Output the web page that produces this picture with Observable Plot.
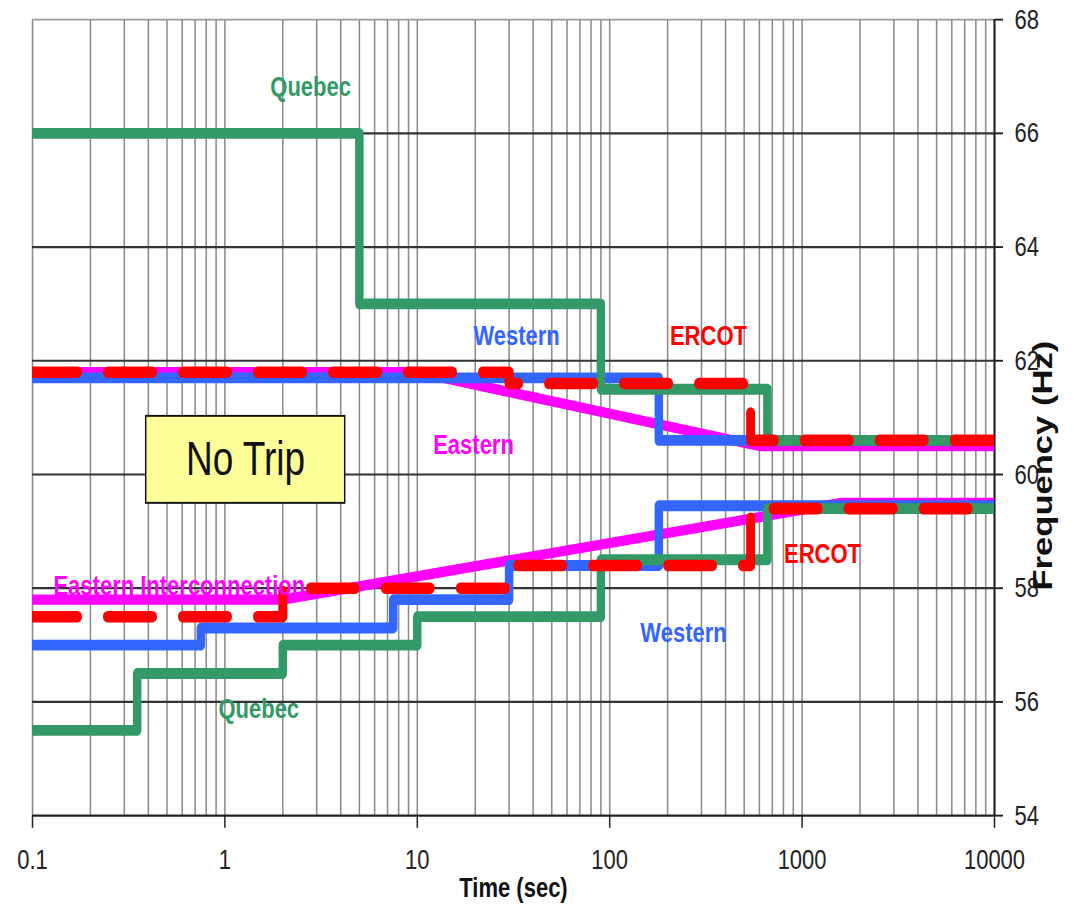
<!DOCTYPE html>
<html><head><meta charset="utf-8">
<script src="https://cdn.jsdelivr.net/npm/d3@7"></script>
<script src="https://cdn.jsdelivr.net/npm/@observablehq/plot@0.6"></script>
<style>body{margin:0;background:#fff;} #chart svg{display:block;}</style>
</head><body><div id="chart"></div>
<script>
// ---- data (time in seconds, frequency in Hz) ----
const quebecHighT  = [0.1, 5, 90, 660, 10000];
const quebecHighF  = [66, 63, 61.5, 60.6, 60.6];
const quebecLowT   = [0.1, 0.35, 2, 10, 90, 660, 10000];
const quebecLowF   = [55.5, 56.5, 57.0, 57.5, 58.5, 59.4, 59.4];
const westernHighT = [0.1, 180, 10000];
const westernHighF = [61.7, 60.6, 60.6];
const westernLowT  = [0.1, 0.75, 7.5, 30, 180, 10000];
const westernLowF  = [57.0, 57.3, 57.8, 58.4, 59.45, 59.45];
const ercotHighT   = [0.1, 30, 540, 10000];
const ercotHighF   = [61.8, 61.6, 60.6, 60.6];
const ercotLowT    = [0.1, 2, 30, 540, 10000];
const ercotLowF    = [57.5, 58.0, 58.4, 59.4, 59.4];
const easternHighT = [0.1, 10, 600, 10000];
const easternHighF = [61.8, 61.8, 60.5, 60.5];
const easternLowT  = [0.1, 2, 1600, 10000];
const easternLowF  = [57.8, 57.8, 59.5, 59.5];

const labelText   = ["Quebec", "Western", "ERCOT", "Eastern", "ERCOT", "Western", "Quebec"];
const labelT      = [2.79, 32.8, 326, 19.6, 1276, 242, 1.5];
const labelF      = [66.82, 62.43, 62.43, 60.52, 58.6, 57.21, 55.87];
const labelSeries = ["Quebec", "Western", "ERCOT", "Eastern", "ERCOT", "Western", "Quebec"];
const eiText = ["Eastern Interconnection"], eiT = [0.1285], eiF = [58.04];

const boxT1 = [0.39], boxT2 = [4.22], boxF1 = [59.49], boxF2 = [61.02];
const boxText = ["No Trip"], boxTextT = [1.28], boxTextF = [60.26];

const xTicks = [0.1, 1, 10, 100, 1000, 10000];
const yTicks = [54, 56, 58, 60, 62, 64, 66, 68];
const yGridDark = [56, 58, 60, 62, 64, 66];
const xLabel = "Time (sec)";
const yLabel = "Frequency (Hz)";

const colors = {Quebec: "#339966", Western: "#3366FF", ERCOT: "#FF0000", Eastern: "#FF00FF"};

// ---- build ----
const rows = (T, F) => T.map((t, i) => ({t, f: F[i]}));
const labels = labelText.map((s, i) => ({s, t: labelT[i], f: labelF[i], c: colors[labelSeries[i]]}));
const eiLabel = eiText.map((s, i) => ({s, t: eiT[i], f: eiF[i]}));
const box = boxT1.map((d, i) => ({x1: boxT1[i], x2: boxT2[i], y1: boxF1[i], y2: boxF2[i]}));
const boxLbl = boxText.map((s, i) => ({s, t: boxTextT[i], f: boxTextF[i]}));

const W = 1074, OUTH = 917, H = 716;
const S = OUTH / H;
const font = "Liberation Sans, Arial, Helvetica, sans-serif";
const gridT = d3.scaleLog().domain([0.1, 10000]).ticks();

const step = (T, F, name) => Plot.line(rows(T, F), {x: "t", y: "f", curve: "step-after", stroke: colors[name], strokeWidth: 8.5, strokeLinejoin: "round", clip: true});
const slope = (T, F) => Plot.line(rows(T, F), {x: "t", y: "f", stroke: colors.Eastern, strokeWidth: 8, strokeLinejoin: "round", clip: true});
const dashed = (T, F) => Plot.line(rows(T, F), {x: "t", y: "f", curve: "step-after", stroke: colors.ERCOT, strokeWidth: 9, strokeDasharray: "45,30", strokeLinecap: "round", strokeLinejoin: "round", clip: true});

const chart = Plot.plot({
  width: W, height: H,
  marginLeft: 32, marginRight: 80, marginTop: 19 / S, marginBottom: 102 / S,
  style: {fontFamily: font, background: "white", color: "#222"},
  x: {type: "log", domain: [0.1, 10000], axis: null},
  y: {domain: [54, 68], axis: null},
  color: {type: "identity"},
  marks: [
    Plot.ruleX(gridT, {stroke: "#888", strokeWidth: 1.5}),
    Plot.ruleY([68], {stroke: "#9a9a9a", strokeWidth: 1.5}),
    Plot.ruleY(yGridDark, {stroke: "#333", strokeWidth: 1.7}),
    Plot.rect(box, {x1: "x1", x2: "x2", y1: "y1", y2: "y2", fill: "#FFFF99", stroke: "#111", strokeWidth: 1.5}),
    Plot.text(boxLbl, {x: "t", y: "f", text: "s", fontSize: 37, fill: "#111"}),
    Plot.ruleY([54], {stroke: "#222", strokeWidth: 1.8}),
    Plot.ruleX([10000], {stroke: "#222", strokeWidth: 2}),
    Plot.axisX({ticks: xTicks, anchor: "bottom", tickSize: 10, tickPadding: 16, fontSize: 22, tickFormat: d => String(d), label: null, stroke: "#222", strokeWidth: 1.5, fill: "#222"}),
    Plot.axisY({ticks: yTicks, anchor: "right", tickSize: 8, tickPadding: 12, fontSize: 22, label: null, stroke: "#222", strokeWidth: 1.5, fill: "#222"}),
    slope(easternHighT, easternHighF),
    slope(easternLowT, easternLowF),
    step(westernHighT, westernHighF, "Western"),
    step(westernLowT, westernLowF, "Western"),
    step(quebecHighT, quebecHighF, "Quebec"),
    step(quebecLowT, quebecLowF, "Quebec"),
    dashed(ercotHighT, ercotHighF),
    dashed(ercotLowT, ercotLowF),
    Plot.text(labels, {x: "t", y: "f", text: "s", fill: "c", fontSize: 22, fontWeight: "bold"}),
    Plot.text(eiLabel, {x: "t", y: "f", text: "s", fill: colors.Eastern, textAnchor: "start", fontSize: 22, fontWeight: "bold"}),
    Plot.text([xLabel], {frameAnchor: "bottom", dy: 63.3, fontSize: 22, fontWeight: "bold", fill: "#111", textAnchor: "middle"}),
    Plot.text([yLabel], {frameAnchor: "right", dx: 49, dy: 37.5, rotate: -90, fontSize: 27, fontWeight: "bold", fill: "#111", textAnchor: "middle"})
  ]
});

chart.setAttribute("viewBox", `0 0 ${W} ${H}`);
chart.setAttribute("preserveAspectRatio", "none");
chart.setAttribute("width", W);
chart.setAttribute("height", OUTH);
chart.style.width = W + "px";
chart.style.height = OUTH + "px";
chart.style.maxWidth = "none";
document.getElementById("chart").appendChild(chart);
</script>
</body></html>
